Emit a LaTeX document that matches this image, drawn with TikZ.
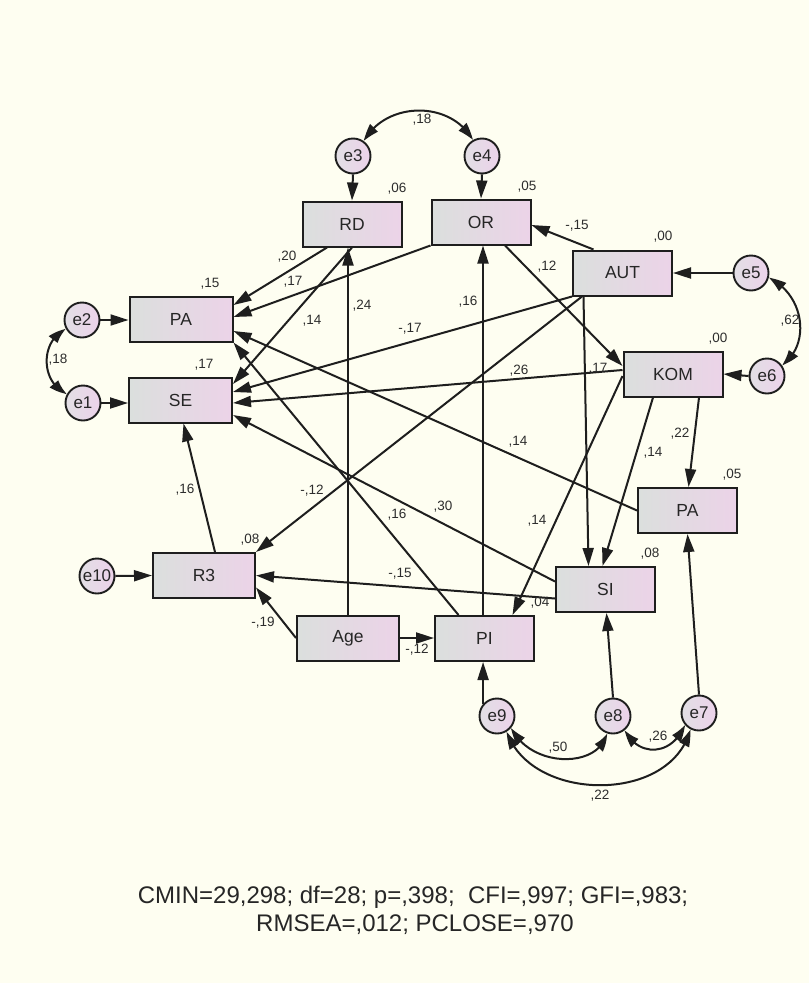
\documentclass[tikz,border=0pt]{standalone}
\usepackage{fontspec}
\setmainfont{Liberation Sans}
\usetikzlibrary{arrows.meta,calc,bending}
\definecolor{bg}{RGB}{254,254,241}
\definecolor{boxL}{RGB}{219,223,221}
\definecolor{boxR}{RGB}{236,211,232}
\definecolor{cirL}{RGB}{226,223,229}
\definecolor{cirR}{RGB}{236,210,234}
\definecolor{edge}{RGB}{30,30,30}
\definecolor{txt}{RGB}{45,45,45}
\begin{document}
\begin{tikzpicture}[x=1pt,y=-1pt,
  obs/.style={draw=edge, line width=2pt, left color=boxL, right color=boxR,
    minimum width=99pt, minimum height=45pt, inner sep=0pt, text=black!85,
    font=\fontsize{17.5}{20}\selectfont},
  err/.style={circle, draw=edge, line width=1.9pt, left color=cirL, right color=cirR,
    minimum size=35pt, inner sep=0pt, text=black!85,
    font=\fontsize{17}{20}\selectfont},
  arr/.style={-{Triangle[length=18pt,width=11pt]}, line width=2pt, draw=edge},
  cov/.style={{Triangle[length=17pt,width=10.5pt,bend]}-{Triangle[length=17pt,width=10.5pt,bend]}, line width=2pt, draw=edge},
  lab/.style={font=\fontsize{13.5}{15}\selectfont, text=txt, inner sep=0pt},
  fitidx/.style={font=\fontsize{24}{28}\selectfont, text=black!85, inner sep=0pt}]

\fill[bg] (0,0) rectangle (809,983);
\useasboundingbox (0,0) rectangle (809,983);

% observed variables
\node[obs] (RD)  at (352,224) {RD};
\node[obs] (OR)  at (481,222) {OR};
\node[obs] (AUT) at (622.5,273) {AUT};
\node[obs, minimum width=103pt] (PAl) at (181,319) {PA};
\node[obs, minimum width=103pt] (SE)  at (180.5,400) {SE};
\node[obs] (KOM) at (673,374) {KOM};
\node[obs] (PAr) at (687.5,510.5) {PA};
\node[obs, minimum width=102pt] (R3)  at (204,575.5) {R3};
\node[obs] (SI)  at (605.5,589.5) {SI};
\node[obs, minimum width=102pt] (Age) at (348,638) {Age};
\node[obs] (PI)  at (484.5,638.5) {PI};

% error terms
\node[err] (e3)  at (353,156) {e3};
\node[err] (e4)  at (482,156) {e4};
\node[err] (e5)  at (751,273) {e5};
\node[err] (e6)  at (767,376) {e6};
\node[err] (e2)  at (82,320) {e2};
\node[err] (e1)  at (83,403) {e1};
\node[err] (e10) at (97,576) {e10};
\node[err] (e9)  at (497,716) {e9};
\node[err] (e8)  at (613,716) {e8};
\node[err] (e7)  at (699,713) {e7};

% error arrows
\draw[arr] (e3.south) -- (RD.north);
\draw[arr] (e4.south) -- (OR.north);
\draw[arr] (e5.west) -- (AUT.east);
\draw[arr] (e6.west) -- (KOM.east);
\draw[arr] (e2.east) -- (e2.east -| PAl.west);
\draw[arr] (e1.east) -- (e1.east -| SE.west);
\draw[arr] (e10.east) -- (R3.west);
\draw[arr] (e9.139) -- (e9.139 |- PI.south);
\draw[arr] (e8.north) -- ([xshift=1pt]SI.south);
\draw[arr] (e7.north) -- (PAr.south);

% covariances
\draw[cov] (e3.54) .. controls +(22,-40) and +(-22,-40) .. (e4.120);
\draw[cov] (e5.-15) .. controls +(36,17) and +(29,-20) .. (e6.36);
\draw[cov] (e2.210) .. controls +(-26,11) and +(-27,-11) .. (e1.150);
\draw[cov] (e9.-40) .. controls +(20,41) and +(-7,35) .. (e8.-110);
\draw[cov] (e9.-58) .. controls +(24,71) and +(-19,75) .. (e7.-118);
\draw[cov] (e8.-50) .. controls +(13,27) and +(-13,32) .. (e7.-140);

% structural paths
\draw[arr] ([xshift=-25pt]RD.south) -- ([yshift=14pt]PAl.east);
\draw[arr] (OR.south west) -- ([yshift=2pt]PAl.east);
\draw[arr] (RD.south) -- ([yshift=16pt]SE.east);
\draw[arr] (AUT.south west) -- ([yshift=8pt]SE.east);
\draw[arr] ([yshift=4pt]KOM.west) -- ([yshift=-3pt]SE.east);
\draw[arr] ([yshift=8pt]SI.west) -- ([yshift=-15pt]SE.east);
\draw[arr] (PAr.west) -- ([yshift=-12pt]PAl.east);
\draw[arr] ([xshift=-26pt]PI.north) -- (PAl.south east);
\draw[arr] ([xshift=10pt]AUT.south west) -- (R3.north east);
\draw[arr] ([xshift=-39pt]AUT.south) -- ([xshift=-17pt]SI.north);
\draw[arr] ([xshift=-29pt]AUT.north) -- ([yshift=-3pt]OR.east);
\draw[arr] ([xshift=24pt]OR.south) -- ([yshift=8pt]KOM.west);
\draw[arr] ([xshift=-1.5pt]PI.north) -- ([xshift=2pt]OR.south);
\draw[arr] (Age.north) -- ([xshift=-4pt]RD.south);
\draw[arr] ([yshift=-2pt]KOM.west) -- ([xshift=28pt]PI.north);
\draw[arr] ([xshift=-20pt]KOM.south) -- ([xshift=-3pt]SI.north);
\draw[arr] ([xshift=26pt]KOM.south) -- ([xshift=1pt]PAr.north);
\draw[arr] ([yshift=-9pt]SI.west) -- (R3.east);
\draw[arr] (Age.west) -- ([yshift=-12pt]R3.east);
\draw[arr] (Age.east) -- (Age.east -| PI.west);
\draw[arr] ([xshift=11pt]R3.north) -- ([xshift=3pt]SE.south);

% R-squared labels
\node[lab] (r1) at (397,189) {,06};
\node[lab] (r2) at (527,187) {,05};
\node[lab] (r3) at (663,237) {,00};
\node[lab] (r4) at (718,339) {,00};
\node[lab] (r5) at (732,475) {,05};
\node[lab] (r6) at (210,284) {,15};
\node[lab] (r7) at (204,365) {,17};
\node[lab] (r8) at (250,540) {,08};
\node[lab] (r9) at (650,554) {,08};
\node[lab] (r10) at (540,603) {,04};

% path coefficients
\node[lab] (c1) at (422,120) {,18};
\node[lab] (c2) at (287,257) {,20};
\node[lab] (c3) at (293,282) {,17};
\node[lab] (c4) at (312,321) {,14};
\node[lab] (c5) at (410,329) {-,17};
\node[lab] (c6) at (362,306) {,24};
\node[lab] (c7) at (468,302) {,16};
\node[lab] (c8) at (547,267) {,12};
\node[lab] (c9) at (577,226) {-,15};
\node[lab] (c10) at (790,321) {,62};
\node[lab] (c11) at (519,371) {,26};
\node[lab] (c12) at (598,369) {,17};
\node[lab] (c13) at (58,360) {,18};
\node[lab] (c14) at (185,490) {,16};
\node[lab] (c15) at (312,491) {-,12};
\node[lab] (c16) at (397,515) {,16};
\node[lab] (c17) at (443,507) {,30};
\node[lab] (c18) at (518,442) {,14};
\node[lab] (c19) at (680,434) {,22};
\node[lab] (c20) at (653,453) {,14};
\node[lab] (c21) at (537,521) {,14};
\node[lab] (c22) at (400,574) {-,15};
\node[lab] (c23) at (263,623) {-,19};
\node[lab] (c24) at (417,650) {-,12};
\node[lab] (c25) at (558,748) {,50};
\node[lab] (c26) at (658,737) {,26};
\node[lab] (c27) at (600,796) {,22};

% fit indices
\node[fitidx] (f1) at (413,897) {CMIN=29,298; df=28; p=,398;\ \ CFI=,997; GFI=,983;};
\node[fitidx] (f2) at (415,925) {RMSEA=,012; PCLOSE=,970};
\end{tikzpicture}
\end{document}
